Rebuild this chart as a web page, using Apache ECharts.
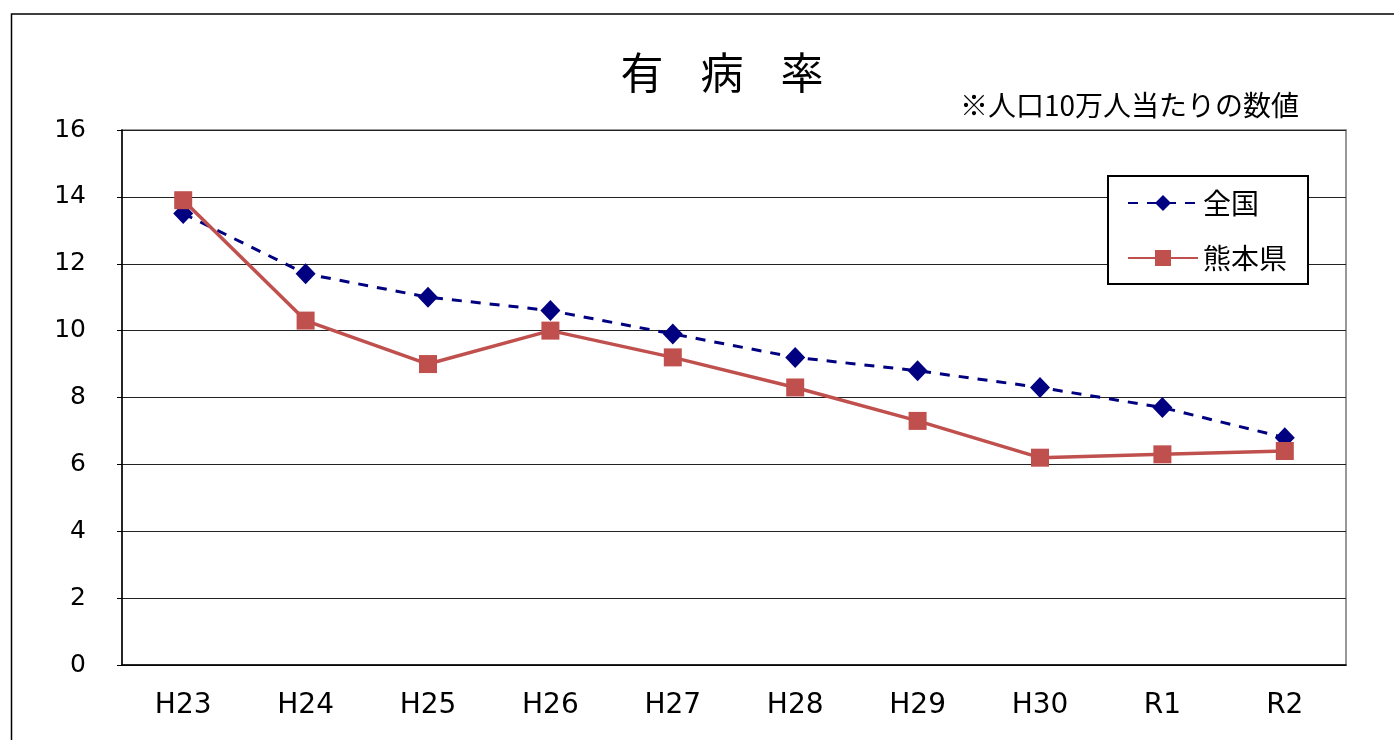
<!DOCTYPE html>
<html><head><meta charset="utf-8">
<script src="https://cdn.jsdelivr.net/npm/echarts@6/dist/echarts.min.js"></script>
<style>html,body{margin:0;padding:0;background:#fff}#c{width:1394px;height:740px}</style>
</head><body><div id="c"></div>
<script>
const categories = ['H23','H24','H25','H26','H27','H28','H29','H30','R1','R2'];
const national = [13.5, 11.7, 11.0, 10.6, 9.9, 9.2, 8.8, 8.3, 7.7, 6.8];
const kumamoto = [13.9, 10.3, 9.0, 10.0, 9.2, 8.3, 7.3, 6.2, 6.3, 6.4];
const yTicks = [0, 2, 4, 6, 8, 10, 12, 14, 16];
const titleChars = ['有', '病', '率'];
const noteText = '※人口10万人当たりの数値';
const seriesNames = ['全国', '熊本県'];

const LATIN = '"DejaVu Sans", "Noto Sans CJK JP", sans-serif';
const CJK = '"Noto Sans CJK JP", sans-serif';
const chart = echarts.init(document.getElementById('c'));
chart.setOption({
  animation: false,
  backgroundColor: '#fff',
  textStyle: { fontFamily: CJK },
  graphic: [
    { type: 'rect', x: 11.5, y: 14, shape: { width: 1400, height: 740 },
      style: { fill: 'none', stroke: '#000', lineWidth: 1.5 }, silent: true, z: 0 },
    { type: 'text', x: 722, y: 73,
      style: { text: titleChars.join('{s|　}'), fontSize: 43, fontFamily: CJK, fill: '#000', align: 'center', verticalAlign: 'middle',
        rich: { s: { fontSize: 37, fontFamily: CJK } } } },
    { type: 'text', x: 1299, y: 105,
      style: { text: noteText, fontSize: 28, fontFamily: CJK, fill: '#000', align: 'right', verticalAlign: 'middle' } }
  ],
  grid: { left: 122, top: 130, right: 48, bottom: 75, show: true, borderColor: '#999', borderWidth: 2, backgroundColor: 'transparent' },
  legend: {
    orient: 'vertical', left: 1108, top: 176,
    padding: [12, 21, 11, 19],
    itemWidth: 70, itemHeight: 20, itemGap: 25, itemTextGap: 9,
    borderColor: '#000', borderWidth: 2, backgroundColor: '#fff',
    textStyle: { fontSize: 28, color: '#000', fontFamily: CJK, lineHeight: 30 },
    data: seriesNames
  },
  xAxis: {
    type: 'category', data: categories, boundaryGap: true,
    axisLine: { show: true, lineStyle: { color: '#000', width: 1.5 } },
    axisTick: { show: false },
    axisLabel: { fontSize: 28, color: '#000', margin: 27, fontFamily: LATIN }
  },
  yAxis: {
    type: 'value', min: yTicks[0], max: yTicks[yTicks.length - 1], interval: 2,
    axisLine: { show: true, lineStyle: { color: '#000', width: 1.5 } },
    axisTick: { show: true, length: 5, lineStyle: { color: '#000' } },
    axisLabel: { fontSize: 25, color: '#000', margin: 36, fontFamily: LATIN },
    splitLine: { show: true, lineStyle: { color: '#222', width: 1 } }
  },
  series: [
    { name: seriesNames[0], type: 'line', data: national, z: 3,
      symbol: 'diamond', symbolSize: [20, 21],
      itemStyle: { color: '#000080' },
      lineStyle: { color: '#000080', width: 3, type: [10, 9] } },
    { name: seriesNames[1], type: 'line', data: kumamoto, z: 4,
      symbol: 'rect', symbolSize: 18,
      itemStyle: { color: '#C0504D', borderRadius: 2 },
      lineStyle: { color: '#C0504D', width: 3.5 } }
  ]
});
</script></body></html>
